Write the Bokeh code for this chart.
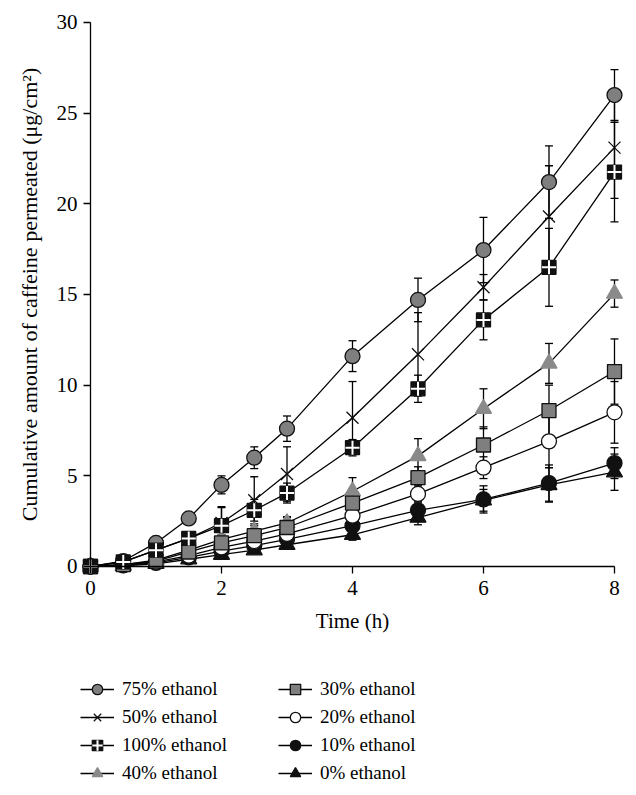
from bokeh.plotting import figure
from bokeh.models import (Range1d, Whisker, TeeHead, ColumnDataSource, Legend,
                          LegendItem, FixedTicker)
from bokeh.embed import file_html
from bokeh.resources import INLINE

# ---- data ----
time = [0, 0.5, 1, 1.5, 2, 2.5, 3, 4, 5, 6, 7, 8]

e75 = [0, 0.30, 1.30, 2.65, 4.50, 6.00, 7.60, 11.60, 14.70, 17.45, 21.20, 26.00]
e75_sd = [0, 0.05, 0.15, 0.20, 0.50, 0.60, 0.70, 0.85, 1.20, 1.80, 2.00, 1.40]
e50 = [0, 0.25, 0.90, 1.55, 2.40, 3.65, 5.10, 8.20, 11.70, 15.40, 19.30, 23.10]
e50_sd = [0, 0.05, 0.20, 0.35, 0.90, 1.30, 1.50, 2.00, 2.30, 0.70, 2.80, 2.80]
e100 = [0, 0.25, 0.90, 1.55, 2.25, 3.10, 4.05, 6.55, 9.80, 13.60, 16.50, 21.75]
e100_sd = [0, 0.05, 0.20, 0.30, 1.00, 0.60, 0.55, 0.45, 0.75, 1.10, 2.15, 2.75]
e40 = [0, 0.10, 0.35, 0.90, 1.50, 1.95, 2.40, 4.15, 6.10, 8.70, 11.20, 15.05]
e40_sd = [0, 0.03, 0.10, 0.15, 0.25, 0.30, 0.35, 0.75, 0.95, 1.10, 1.10, 0.75]
e30 = [0, 0.10, 0.30, 0.80, 1.30, 1.70, 2.15, 3.50, 4.90, 6.70, 8.60, 10.75]
e30_sd = [0, 0.03, 0.10, 0.15, 0.25, 0.30, 0.55, 0.50, 0.60, 1.00, 1.40, 1.80]
e20 = [0, 0.08, 0.25, 0.60, 1.05, 1.40, 1.80, 2.80, 4.00, 5.45, 6.90, 8.50]
e20_sd = [0, 0.02, 0.08, 0.12, 0.20, 0.25, 0.30, 0.40, 0.45, 0.60, 1.45, 1.70]
e10 = [0, 0.06, 0.20, 0.50, 0.85, 1.15, 1.50, 2.25, 3.10, 3.70, 4.60, 5.70]
e10_sd = [0, 0.02, 0.06, 0.10, 0.15, 0.20, 0.25, 0.35, 0.50, 0.75, 1.00, 0.85]
e0 = [0, 0.04, 0.15, 0.40, 0.65, 0.90, 1.20, 1.75, 2.70, 3.65, 4.50, 5.20]
e0_sd = [0, 0.02, 0.05, 0.08, 0.12, 0.15, 0.20, 0.30, 0.40, 0.60, 0.95, 1.00]

labels = ["75% ethanol", "50% ethanol", "100% ethanol", "40% ethanol",
          "30% ethanol", "20% ethanol", "10% ethanol", "0% ethanol"]
x_ticks = [0, 2, 4, 6, 8]
y_ticks = [0, 5, 10, 15, 20, 25, 30]

GREY = "#7f7f7f"
LIGHT = "#8a8a8a"
INK = "#111111"
FONT = "Liberation Serif"
LEGEND_FONT = "Times New Roman"

styles = [
    dict(marker="circle", fill=GREY, line=INK, size=15),
    dict(marker="x", fill=None, line=INK, size=17),
    dict(marker="square", fill=INK, line=INK, size=14, cross=True),
    dict(marker="triangle", fill=LIGHT, line=LIGHT, size=16),
    dict(marker="square", fill=GREY, line=INK, size=14),
    dict(marker="circle", fill="white", line=INK, size=15),
    dict(marker="circle", fill=INK, line=INK, size=15),
    dict(marker="triangle", fill=INK, line=INK, size=16),
]
values = [e75, e50, e100, e40, e30, e20, e10, e0]
sds = [e75_sd, e50_sd, e100_sd, e40_sd, e30_sd, e20_sd, e10_sd, e0_sd]

# The frame covers the whole canvas; the axes are pinned at 0 and bounded to
# the data extent, the legend sits inside the frame below the axes.
p = figure(width=636, height=795, x_range=Range1d(-1.374, 8.336),
           y_range=Range1d(-12.629, 31.213),
           output_backend="svg", toolbar_location=None,
           min_border_left=0, min_border_right=0, min_border_top=0,
           min_border_bottom=0)
p.outline_line_color = None
p.grid.visible = False
p.background_fill_color = "white"
p.border_fill_color = "white"

p.xaxis.ticker = FixedTicker(ticks=x_ticks)
p.yaxis.ticker = FixedTicker(ticks=y_ticks)
p.xaxis.bounds = (0, 8)
p.yaxis.bounds = (0, 30)
p.xaxis.fixed_location = 0
p.yaxis.fixed_location = 0
for ax in p.axis:
    ax.major_label_text_font = FONT
    ax.major_label_text_font_size = "21px"
    ax.major_label_text_color = "black"
    ax.axis_label_text_font = FONT
    ax.axis_label_text_font_size = "21px"
    ax.axis_label_text_font_style = "normal"
    ax.axis_label_text_color = "black"
    ax.minor_tick_line_color = None
    ax.major_tick_in = 0
    ax.major_tick_out = 7
    ax.major_tick_line_width = 1.3
    ax.axis_line_width = 1.3
    ax.axis_line_color = "black"
    ax.major_tick_line_color = "black"
p.xaxis.axis_label = "Time (h)"
p.yaxis.axis_label = "Cumulative amount of caffeine permeated (\u03bcg/cm\u00b2)"
p.yaxis.axis_label_text_font_size = "22px"
p.xaxis.major_label_standoff = 8
p.yaxis.major_label_standoff = 6
p.xaxis.axis_label_standoff = 10
p.yaxis.axis_label_standoff = 12

# error bars under the markers
for v, s in zip(values, sds):
    src = ColumnDataSource(dict(x=time, upper=[a + b for a, b in zip(v, s)],
                                lower=[a - b for a, b in zip(v, s)]))
    w = Whisker(source=src, base="x", upper="upper", lower="lower",
                line_color="black", line_width=1.3, level="underlay",
                upper_head=TeeHead(size=8, line_color="black", line_width=1.3),
                lower_head=TeeHead(size=8, line_color="black", line_width=1.3))
    p.add_layout(w)

# drawing order (bottom to top)
draw_order = [7, 6, 5, 3, 4, 0, 1, 2]
rend = {}
for i in draw_order:
    v, st = values[i], styles[i]
    src = ColumnDataSource(dict(x=time, y=v))
    rs = [p.line("x", "y", source=src, line_color="black", line_width=1.3)]
    rs.append(p.scatter("x", "y", source=src, marker=st["marker"], size=st["size"],
                        fill_color=st["fill"], line_color=st["line"], line_width=1.3))
    if st.get("cross"):
        rs.append(p.scatter("x", "y", source=src, marker="cross", size=st["size"],
                            line_color="white", line_width=2))
    rend[i] = rs

items = [LegendItem(label=labels[i], renderers=rend[i]) for i in range(8)]

for k, loc in enumerate([(80, 9), (278, 9)]):
    lg = Legend(items=items[4 * k:4 * k + 4], location=loc, orientation="vertical",
                glyph_width=34, glyph_height=26,
                label_height=20, spacing=2, label_standoff=8, padding=0, margin=0,
                border_line_color=None, background_fill_alpha=0,
                label_text_font=LEGEND_FONT, label_text_font_size="19px",
                label_text_color="black", label_text_font_style="normal")
    p.add_layout(lg)

open("out.html", "w").write(file_html(p, INLINE))
